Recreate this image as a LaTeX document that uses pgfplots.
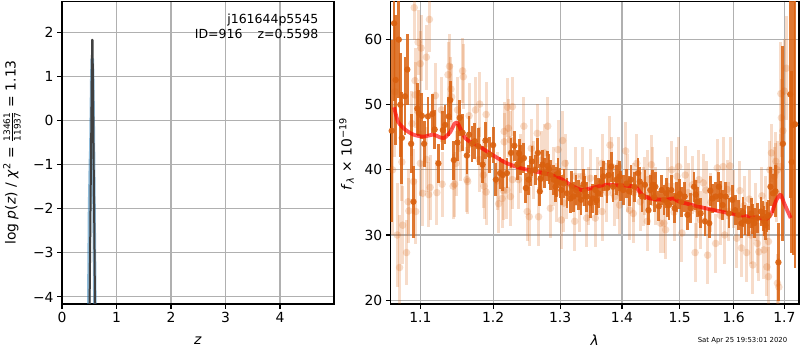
\documentclass[border=0pt]{standalone}
\usepackage{fontspec}
\setmainfont{DejaVu Sans}
\usepackage{pgfplots}
\pgfplotsset{compat=1.18}
\usepackage{pgfplotstable}

\definecolor{dorange}{RGB}{217,96,14}
\definecolor{mplblue}{RGB}{31,119,180}
\definecolor{gridgray}{RGB}{176,176,176}

\pgfplotstableread{
x y e
1.063 46.0 14
1.066 62.5 12
1.068 53.8 10
1.072 60.0 9
1.074 50.0 8
1.076 44.9 7
1.080 51.3 6
1.083 55.4 5.5
1.088 44.0 4.5
1.091 35.1 5.5
1.096 49.4 4
1.098 48.7 3.5
1.102 48.3 3.5
1.105 44.0 3.5
1.110 48.2 3
1.116 48.6 3
1.119 46.2 3
1.124 41.0 3
1.130 46.1 3
1.133 46.9 3
1.138 48.2 3
1.140 50.7 3
1.145 41.5 3
1.150 44.2 2.8
1.153 48.0 2.8
1.157 45.7 2.8
1.163 42.2 2.8
1.166 45.4 2.8
1.170 44.0 2.8
1.174 44.4 2.8
1.179 43.6 2.8
1.185 40.8 2.8
1.189 44.5 2.8
1.195 42.3 2.8
1.200 43.8 2.8
1.204 38.5 2.5
1.210 39.5 2.5
1.214 39.2 2.5
1.220 39.5 2.3
1.226 42.6 2.3
1.231 43.7 2.3
1.235 40.8 2.3
1.238 42.5 2.3
1.240 41.5 2.3
1.245 41.8 2.3
1.248 37.2 2.3
1.252 38.5 2.3
1.255 39.8 2.3
1.257 41.3 2.3
1.262 40.0 2.3
1.266 42.6 2.3
1.269 36.7 2.3
1.270 38.6 2.3
1.273 40.8 2.3
1.276 39.5 2.3
1.281 40.6 2.3
1.283 40.1 2.3
1.285 39.2 2.3
1.290 38.5 2.3
1.293 37.4 2.3
1.295 38.2 2.3
1.297 39.5 2.3
1.300 38.0 2.3
1.302 36.9 2.3
1.306 37.9 2.3
1.311 36.4 2.3
1.316 35.6 2.3
1.318 37.5 2.3
1.321 35.9 2.3
1.325 36.9 2.3
1.329 36.2 2.3
1.333 35.4 2.3
1.337 37.8 2.3
1.339 36.7 2.3
1.342 35.9 2.3
1.348 34.9 2.3
1.352 35.6 2.3
1.356 36.9 2.3
1.358 35.3 2.3
1.361 36.4 2.3
1.366 38.2 2.3
1.369 39.0 2.3
1.375 37.2 2.3
1.378 39.2 2.3
1.382 40.5 2.3
1.385 37.4 2.3
1.391 38.5 2.3
1.396 39.0 2.3
1.398 37.5 2.3
1.402 36.9 2.3
1.408 37.9 2.3
1.412 36.7 2.3
1.415 38.5 2.3
1.421 37.4 2.3
1.427 39.5 2.3
1.430 38.2 2.3
1.434 35.9 2.3
1.439 37.7 2.3
1.445 33.8 2.3
1.448 36.9 2.3
1.452 37.7 2.3
1.455 35.8 2.3
1.457 37.4 2.3
1.463 34.4 2.3
1.468 36.9 2.3
1.472 35.4 2.3
1.476 36.4 2.3
1.478 35.0 2.3
1.481 34.6 2.3
1.485 36.9 2.3
1.491 34.1 2.3
1.495 35.9 2.3
1.500 36.3 2.3
1.503 35.1 2.3
1.509 35.9 2.3
1.514 33.1 2.3
1.520 34.1 2.3
1.526 37.4 2.3
1.529 36.2 2.3
1.532 35.1 2.3
1.538 33.3 2.3
1.546 32.1 2.3
1.554 31.8 2.3
1.556 36.8 2.3
1.560 35.6 2.3
1.566 35.9 2.3
1.572 37.4 2.3
1.575 36.0 2.3
1.579 34.6 2.3
1.585 35.9 2.3
1.591 33.3 2.3
1.597 35.4 2.3
1.603 33.8 2.3
1.609 33.1 2.3
1.615 31.8 2.3
1.618 33.5 2.3
1.622 32.3 2.3
1.628 32.1 2.3
1.634 33.3 2.3
1.637 32.4 2.3
1.640 31.8 2.3
1.646 32.6 2.3
1.653 33.6 2.3
1.657 32.9 2.3
1.659 32.1 2.3
1.662 31.5 2.3
1.665 32.8 2.3
1.668 33.0 2.3
1.672 37.4 3
1.677 36.4 3
1.682 36.7 4
1.688 25.8 6
1.697 44.0 15
1.712 51.6 16
1.715 41.2 14
1.718 46.9 20
1.722 47.0 22
}\darkdata

\pgfplotstableread{
x y e
1.064 40.0 10
1.067 52.0 10
1.070 30.0 8
1.073 25.0 8
1.076 41.2 6
1.077 31.5 6
1.082 27.3 5
1.084 35.1 5
1.085 33.7 5
1.089 47.1 5
1.091 38.2 5
1.092 64.9 5
1.093 53.7 5
1.093 51.5 5
1.094 33.6 5
1.097 59.6 5
1.100 56.3 5
1.100 41.0 5
1.101 58.7 5
1.103 36.4 5
1.108 57.3 5
1.108 41.6 5
1.111 36.2 5
1.112 63.1 5
1.113 37.3 5
1.120 51.4 5
1.122 36.5 5
1.128 49.2 5
1.129 37.8 5
1.137 54.6 5
1.139 55.9 5
1.141 52.4 5
1.142 51.2 5
1.144 37.5 5
1.146 37.8 5
1.148 41.0 5
1.150 49.2 5
1.154 43.3 5
1.157 55.2 5
1.158 54.3 5
1.163 38.5 5
1.164 38.2 5
1.166 48.3 5
1.175 49.2 5
1.180 41.6 5
1.181 50.1 5
1.186 39.2 5
1.187 37.5 5
1.190 48.5 5
1.190 36.6 5
1.206 38.3 4.5
1.208 34.8 4.5
1.213 35.6 4.5
1.215 36.8 4.5
1.216 45.9 4.5
1.216 44.3 4.5
1.220 36.9 4.5
1.221 49.6 4.5
1.222 46.4 4.5
1.225 44.6 4.5
1.225 35.9 4.5
1.228 49.7 4.5
1.228 38.5 4.5
1.237 38.5 4.5
1.240 41.0 4.5
1.245 46.7 4.5
1.250 33.6 4.5
1.253 32.8 4.5
1.256 43.3 4.5
1.260 40.0 4.5
1.265 45.6 4.5
1.267 32.8 4.5
1.272 41.5 4.5
1.276 42.6 4.5
1.281 46.7 4.5
1.285 34.1 4.5
1.290 39.0 4.5
1.295 36.5 4.5
1.297 43.1 4.5
1.302 32.3 4.5
1.304 44.5 4.5
1.306 34.9 4.5
1.308 41.0 4.5
1.310 37.0 4.5
1.323 32.1 4.5
1.324 39.0 4.5
1.330 35.0 4.5
1.336 39.0 4.5
1.342 32.6 4.5
1.345 36.0 4.5
1.348 38.7 4.5
1.356 32.6 4.5
1.360 37.5 4.5
1.367 41.0 4.5
1.367 33.6 4.5
1.375 36.5 4.5
1.380 43.8 4.5
1.383 40.5 4.5
1.388 35.9 4.5
1.392 37.0 4.5
1.394 40.5 4.5
1.396 34.6 4.5
1.406 42.9 4.5
1.410 38.0 4.5
1.413 33.8 4.5
1.419 33.3 4.5
1.420 36.5 4.5
1.425 41.0 4.5
1.431 35.1 4.5
1.436 35.9 4.5
1.438 37.5 4.5
1.443 32.1 4.5
1.444 38.5 4.5
1.450 40.8 4.5
1.452 39.0 4.5
1.458 36.0 4.5
1.466 31.8 4.5
1.472 31.8 4.5
1.475 30.8 4.5
1.478 37.5 4.5
1.486 40.0 4.5
1.490 33.5 4.5
1.495 39.0 4.5
1.498 40.5 4.5
1.504 30.3 4.5
1.510 39.2 4.5
1.515 36.5 4.5
1.523 37.7 4.5
1.528 27.3 4.5
1.530 34.0 4.5
1.535 38.5 4.5
1.538 32.3 4.5
1.543 38.0 4.5
1.548 36.9 4.5
1.551 26.9 4.5
1.557 35.0 4.5
1.566 28.7 4.5
1.569 40.3 4.5
1.575 33.0 4.5
1.580 40.5 4.5
1.583 30.0 4.5
1.588 37.0 4.5
1.591 33.6 4.5
1.593 40.6 4.5
1.600 35.5 4.5
1.606 29.5 4.5
1.612 36.8 4.5
1.615 28.0 4.5
1.620 34.5 4.5
1.625 27.3 4.5
1.630 35.5 4.5
1.633 30.0 4.5
1.637 25.4 4.5
1.642 33.5 4.5
1.646 28.7 4.5
1.649 27.4 4.5
1.655 36.0 4.5
1.659 27.7 4.5
1.662 34.5 4.5
1.665 25.1 4.5
1.668 29.0 4.5
1.668 23.6 4.5
1.671 40.0 4.5
1.674 42.6 4.5
1.680 39.0 4.5
1.682 39.6 4.5
1.683 41.3 4.5
1.684 36.5 4.5
1.686 40.0 4.5
1.686 22.6 4.5
1.689 22.0 4.5
1.692 40.5 5
1.693 51.7 8
1.694 48.0 6
1.697 46.0 6
1.700 52.1 8
1.704 55.6 8
}\lightdata

\pgfplotsset{mystyle/.style={
  scale only axis, anchor=south west,
  grid=major, grid style={gridgray, line width=1.1pt},
  axis line style={line width=1.1pt},
  every tick/.style={black, line width=1.1pt},
  major tick length=4.9pt, tick align=outside,
  xtick pos=bottom, ytick pos=left,
  minor tick num=0,
  /pgf/number format/assume math mode=true,
  tick label style={font=\fontsize{13.9}{16}\selectfont},
}}

\begin{document}
\begin{tikzpicture}[x=1pt,y=1pt]
\useasboundingbox (0,0) rectangle (800,350);

\begin{axis}[mystyle, at={(62pt,46pt)}, width=272pt, height=302.5pt,
  xmin=0, xmax=4.99, ymin=-4.16, ymax=2.70,
  xtick={0,1,2,3,4}, ytick={-4,-3,-2,-1,0,1,2},
  yticklabels={−4,−3,−2,−1,0,1,2}]
\addplot[mplblue, opacity=0.5, line width=3.5pt, line join=round] coordinates {
(0.488,-4.6) (0.505,-2.0) (0.522,-0.9) (0.530,-0.6) (0.545,0.9) (0.555,1.40) (0.565,0.9) (0.585,-1.6) (0.606,-4.6)};
\addplot[black!75, line width=2pt, line join=round] coordinates {
(0.503,-4.6) (0.553,1.83) (0.560,1.83) (0.609,-4.6)};
\end{axis}

\begin{axis}[mystyle, at={(390.7pt,46pt)}, width=408.3pt, height=302.5pt,
  xmode=log, xmin=1.0617, xmax=1.730, ymin=19.4, ymax=65.85,
  xtick={1.1,1.2,1.3,1.4,1.5,1.6,1.7},
  xticklabels={1.1,1.2,1.3,1.4,1.5,1.6,1.7},
  ytick={20,30,40,50,60}]
\addplot[dorange, only marks, mark=*, mark size=3.8pt,
  mark options={solid, draw opacity=0, fill=dorange, fill opacity=0.22},
  error bars/.cd, y dir=both, y explicit, error mark=none,
  error bar style={line width=3pt, dorange, draw opacity=0.22}]
  table[x=x, y=y, y error=e] {\lightdata};
\addplot[dorange, only marks, mark=*, mark size=3.2pt,
  mark options={solid, draw opacity=0, fill=dorange, fill opacity=0.9},
  error bars/.cd, y dir=both, y explicit, error mark=none,
  error bar style={line width=2.8pt, dorange, draw opacity=0.85}]
  table[x=x, y=y, y error=e] {\darkdata};
\addplot[red, opacity=0.65, line width=3.8pt, smooth, tension=0.4, line join=round] coordinates {
(1.066,49.6) (1.071,47.4) (1.080,46.2) (1.091,45.4) (1.104,45.1) (1.117,45.4)
(1.126,45.0) (1.132,44.9) (1.140,45.8) (1.146,47.1) (1.150,47.2) (1.154,46.3)
(1.160,45.0) (1.166,44.4) (1.180,43.6) (1.199,42.3) (1.218,41.1) (1.239,40.3)
(1.260,39.8) (1.280,39.4) (1.300,38.7) (1.318,37.6) (1.334,36.9) (1.350,37.2)
(1.372,37.7) (1.395,37.6) (1.416,37.5) (1.425,37.2) (1.434,36.2) (1.448,35.6)
(1.474,35.4) (1.489,35.6) (1.500,35.1) (1.547,34.1) (1.600,33.2) (1.640,32.7)
(1.665,32.5) (1.674,33.3) (1.683,35.2) (1.692,36.2) (1.700,34.8) (1.713,32.6)};
\end{axis}

% annotations
\node[anchor=base east, inner sep=0pt, font=\fontsize{12.5}{14}\selectfont] at (318.5,326) {j161644p5545};
\node[anchor=base east, inner sep=0pt, font=\fontsize{12.5}{14}\selectfont] at (318.5,311.7) {ID=916\hspace{15pt}z=0.5598};
\node[anchor=base, inner sep=0pt, font=\fontsize{13.9}{16}\selectfont] at (198,5) {\textit{z}};
\node[anchor=base, inner sep=0pt, font=\fontsize{13.9}{16}\selectfont] at (594.8,4) {\textit{λ}};
\node[anchor=base, inner sep=0pt, font=\fontsize{6.9}{8}\selectfont] at (742.5,7.5) {Sat Apr 25 19:53:01 2020};
\node[rotate=90, inner sep=0pt, font=\fontsize{13.9}{16}\selectfont] at (12,197.5)
  {log \textit{p}(\textit{z}) / \textit{χ}\textsuperscript{2} = $\frac{\hbox{\fontsize{9}{9}\selectfont 13461}}{\hbox{\fontsize{9}{9}\selectfont 11937}}$ = 1.13};
\node[rotate=90, inner sep=0pt, font=\fontsize{13.9}{16}\selectfont] at (346.5,196)
  {\textit{f}\textsubscript{\textit{λ}} × 10\textsuperscript{−19}};
\end{tikzpicture}
\end{document}
